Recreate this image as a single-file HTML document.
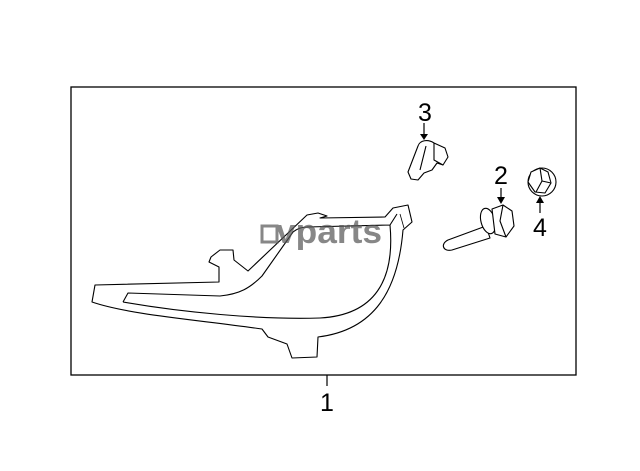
<!DOCTYPE html>
<html><head><style>
html,body{margin:0;padding:0;background:#fff;width:640px;height:471px;overflow:hidden}
svg{display:block}
text{font-family:"Liberation Sans",sans-serif}
</style></head><body>
<svg width="640" height="471" viewBox="0 0 640 471" xmlns="http://www.w3.org/2000/svg">
<rect x="71" y="87" width="505" height="288" fill="none" stroke="#000" stroke-width="1.3"/>
<line x1="327" y1="375" x2="327" y2="386" stroke="#000" stroke-width="1.2"/>
<text x="327" y="411" font-size="25" text-anchor="middle">1</text>
<g fill="none" stroke="#000" stroke-width="1.1" stroke-linejoin="round">
<path d="M95,285 L219,282 L219,267 L209,262 L211,257 L220,250 L233,250 L234,260 L248,271 L307,215 L318,213 L327,216 L320,218 L385,217 L393,208 L408,205 L412,222 L403,230 C398,290 375,330 318,337 L317,357 L292,358 L287,344 L268,337 L262,329 C200,320 130,315 92,302 Z"/>
<path d="M123,302 L128,293 L220,296 C240,294 250,288 262,276 L293,232 C298,228 302,227 307,227 L390,225 L397,214 M390,225 C395,280 375,315 320,318 C260,320 180,312 123,302"/>
<path d="M400,214 L404,228" stroke-width="0.8"/>
</g>
<g fill="#fff" stroke="#000" stroke-width="1.1" stroke-linejoin="round">
<path d="M408,172 L418,146 C420,140 428,139 434,143 L445,148 L448,157 L443,165 L437,163 L432,170 L424,173 L418,180 L411,179 Z"/>
<path d="M434,143 L434,160 L443,165 M426,146 L420,170"/>
</g>
<line x1="424" y1="123" x2="424" y2="136" stroke="#000" stroke-width="1.2"/>
<path d="M420,134 L428,134 L424,140 Z" fill="#000"/>
<text x="425" y="121" font-size="25" text-anchor="middle">3</text>
<g fill="#fff" stroke="#000" stroke-width="1.1" stroke-linejoin="round">
<path d="M486,226 L448,240 C440,244 443,252 452,250 L490,238 Z"/>
<ellipse cx="488" cy="221" rx="7" ry="13" transform="rotate(-15 488 221)"/>
<path d="M492,209 L503,205 L512,211 L514,226 L506,237 L495,234 Z"/>
<path d="M503,205 L500,221 L506,237"/>
</g>
<line x1="501" y1="188" x2="501" y2="199" stroke="#000" stroke-width="1.2"/>
<path d="M497,197 L505,197 L501,204 Z" fill="#000"/>
<text x="501" y="184" font-size="25" text-anchor="middle">2</text>
<g fill="#fff" stroke="#000" stroke-width="1.1" stroke-linejoin="round">
<ellipse cx="542" cy="182" rx="14" ry="14"/>
<path d="M531,172 L540,168 L548,172 L551,183 L545,193 L535,192 L528,182 Z"/>
<path d="M540,168 L542,181 L551,183 M542,181 L536,192"/>
</g>
<line x1="540" y1="201" x2="540" y2="213" stroke="#000" stroke-width="1.2"/>
<path d="M536,203 L544,203 L540,196 Z" fill="#000"/>
<text x="540" y="236" font-size="25" text-anchor="middle">4</text>
<g opacity="0.7">
<rect x="262" y="226" width="15" height="16" fill="none" stroke="#555" stroke-width="3"/>
<text x="276" y="243" font-size="34" font-weight="bold" fill="#555" textLength="106" lengthAdjust="spacingAndGlyphs">vparts</text>
</g>
</svg>
</body></html>
